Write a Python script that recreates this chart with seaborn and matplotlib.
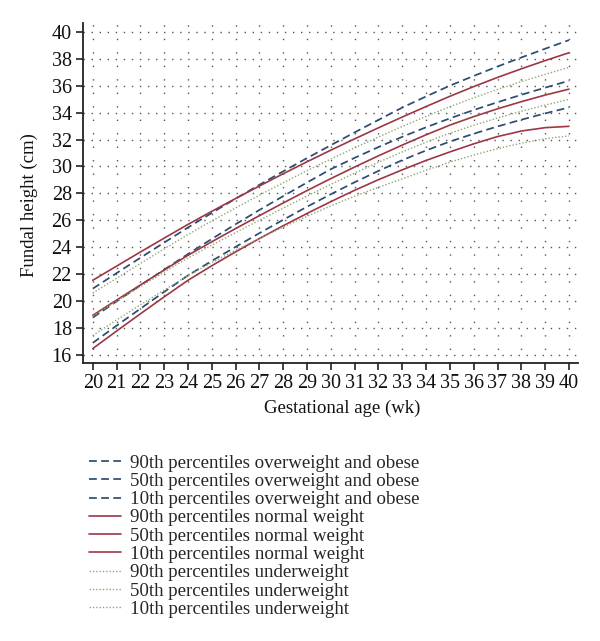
import matplotlib
matplotlib.use("Agg")
import matplotlib.pyplot as plt
import seaborn as sns
import pandas as pd

weeks = list(range(20, 41))

oo_90 = [20.93, 22.08, 23.22, 24.35, 25.47, 26.55, 27.61, 28.64, 29.64, 30.62, 31.58,
         32.53, 33.46, 34.37, 35.20, 36.00, 36.72, 37.42, 38.09, 38.74, 39.38]
oo_50 = [18.78, 19.98, 21.17, 22.34, 23.50, 24.62, 25.71, 26.77, 27.80, 28.81, 29.80,
         30.64, 31.44, 32.20, 32.91, 33.57, 34.19, 34.77, 35.32, 35.85, 36.36]
oo_10 = [16.90, 18.18, 19.44, 20.69, 21.91, 22.99, 24.03, 25.05, 26.04, 27.01, 27.94,
         28.83, 29.67, 30.47, 31.19, 31.85, 32.43, 32.97, 33.47, 33.94, 34.38]
nw_90 = [21.55, 22.60, 23.65, 24.68, 25.70, 26.67, 27.62, 28.55, 29.46, 30.35, 31.21,
         32.05, 32.87, 33.67, 34.45, 35.21, 35.93, 36.61, 37.25, 37.86, 38.44]
nw_50 = [18.95, 20.08, 21.20, 22.31, 23.41, 24.41, 25.39, 26.35, 27.29, 28.21, 29.10,
         29.96, 30.79, 31.59, 32.35, 33.07, 33.70, 34.28, 34.81, 35.30, 35.74]
nw_10 = [16.48, 17.78, 19.06, 20.32, 21.55, 22.63, 23.66, 24.65, 25.60, 26.51, 27.39,
         28.23, 29.02, 29.75, 30.45, 31.08, 31.68, 32.22, 32.63, 32.88, 32.98]
uw_90 = [20.60, 21.70, 22.80, 23.88, 24.95, 25.95, 26.92, 27.87, 28.79, 29.69, 30.55,
         31.38, 32.19, 32.97, 33.72, 34.44, 35.10, 35.72, 36.30, 36.84, 37.35]
uw_50 = [18.90, 20.00, 21.08, 22.15, 23.21, 24.16, 25.09, 26.01, 26.91, 27.80, 28.67,
         29.51, 30.31, 31.08, 31.80, 32.47, 33.06, 33.60, 34.10, 34.56, 34.98]
uw_10 = [17.45, 18.60, 19.73, 20.83, 21.90, 22.86, 23.78, 24.66, 25.50, 26.30, 27.07,
         27.79, 28.45, 29.08, 29.72, 30.32, 30.85, 31.32, 31.73, 32.06, 32.27]

labels = [
    "90th percentiles overweight and obese",
    "50th percentiles overweight and obese",
    "10th percentiles overweight and obese",
    "90th percentiles normal weight",
    "50th percentiles normal weight",
    "10th percentiles normal weight",
    "90th percentiles underweight",
    "50th percentiles underweight",
    "10th percentiles underweight",
]
series = [oo_90, oo_50, oo_10, nw_90, nw_50, nw_10, uw_90, uw_50, uw_10]

x_ticks = list(range(20, 41))
y_ticks = list(range(16, 41, 2))

sns.set_style("white")
plt.rcParams["font.family"] = ["Liberation Serif", "DejaVu Serif"]

BLUE = "#2b4d72"
RED = "#9c3744"
GREEN = "#8fa872"
styles = [
    (BLUE, (0, (4.5, 2.5)), 1.25),
    (RED, "-", 1.2),
    (GREEN, (0, (1, 1.4)), 1.0),
]

fig = plt.figure(figsize=(6.0, 6.41), dpi=100)
ax = fig.add_axes([0.1383, 0.4337, 0.825, 0.5304])

for i, (lab, vals) in enumerate(zip(labels, series)):
    col, ls, lw = styles[i // 3]
    df = pd.DataFrame({"week": weeks, "height": vals})
    sns.lineplot(data=df, x="week", y="height", ax=ax, color=col,
                 linestyle=ls, linewidth=lw, label=lab, legend=False, zorder=3)

ax.set_xlim(19.59, 40.38)
ax.set_ylim(15.41, 40.65)
ax.set_xticks(x_ticks)
ax.set_yticks(y_ticks)
ax.set_xticklabels([str(t) for t in x_ticks], fontsize=14.5)
ax.set_yticklabels([str(t) for t in y_ticks], fontsize=14.5)

for s in ["top", "right"]:
    ax.spines[s].set_visible(False)
for s in ["left", "bottom"]:
    ax.spines[s].set_color("#222222")
    ax.spines[s].set_linewidth(1.3)
ax.tick_params(axis="both", direction="out", length=5, width=1.2, color="#222222",
               labelcolor="#111111", pad=3, bottom=True, left=True)

ax.grid(False)
for yv in y_ticks:
    ax.axhline(yv, color="#555555", linewidth=1.0, linestyle=(0, (1, 4.8)), zorder=1)
for xv in x_ticks:
    ax.axvline(xv, color="#555555", linewidth=1.0, linestyle=(0, (1, 8.7)), zorder=1)

ax.set_xlabel("Gestational age (wk)", fontsize=13.5, color="#111111")
ax.set_ylabel("Fundal height (cm)", fontsize=13.5, color="#111111")
ax.xaxis.set_label_coords(0.523, -0.109)
ax.yaxis.set_label_coords(-0.091, 0.465)

handles, labs = ax.get_legend_handles_labels()
fig.legend(handles, labs, loc="upper left", bbox_to_anchor=(0.148, 0.291),
           frameon=False, fontsize=13.6, handlelength=1.7, handletextpad=0.48,
           labelspacing=0.055, borderpad=0, borderaxespad=0)

fig.savefig("out.png", dpi=100, facecolor="white")
